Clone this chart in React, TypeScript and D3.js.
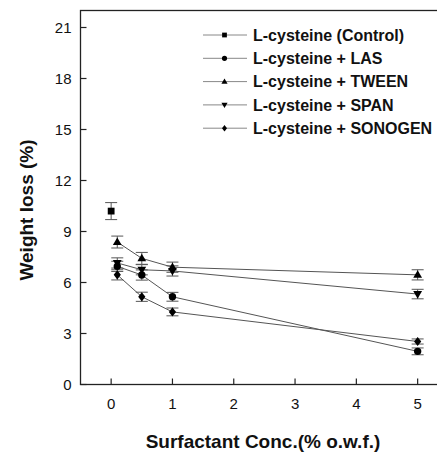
import React from "react";
import * as d3 from "d3";

// concentrations (% o.w.f.)
const concs = [0.1, 0.5, 1, 5];

const controlX = [0];
const controlY = [10.2];
const controlErr = [0.5];

const lasY = [6.95, 6.44, 5.16, 1.95];
const lasErr = [0.3, 0.3, 0.26, 0.2];

const tweenY = [8.38, 7.42, 6.9, 6.45];
const tweenErr = [0.35, 0.35, 0.3, 0.3];

const spanY = [7.15, 6.75, 6.68, 5.32];
const spanErr = [0.3, 0.3, 0.3, 0.28];

const sonogenY = [6.45, 5.16, 4.27, 2.53];
const sonogenErr = [0.3, 0.27, 0.23, 0.15];

const xTicks = [0, 1, 2, 3, 4, 5];
const yTicks = [0, 3, 6, 9, 12, 15, 18, 21];

type Shape = "square" | "circle" | "up" | "down" | "diamond";

const series: { name: string; shape: Shape; x: number[]; y: number[]; err: number[] }[] = [
  { name: "L-cysteine (Control)", shape: "square", x: controlX, y: controlY, err: controlErr },
  { name: "L-cysteine + LAS", shape: "circle", x: concs, y: lasY, err: lasErr },
  { name: "L-cysteine + TWEEN", shape: "up", x: concs, y: tweenY, err: tweenErr },
  { name: "L-cysteine + SPAN", shape: "down", x: concs, y: spanY, err: spanErr },
  { name: "L-cysteine + SONOGEN", shape: "diamond", x: concs, y: sonogenY, err: sonogenErr },
];

function markerPath(shape: Shape, k: number) {
  switch (shape) {
    case "square":
      return `M${-3.4 * k},${-3.4 * k}h${6.8 * k}v${6.8 * k}h${-6.8 * k}Z`;
    case "circle": {
      const r = 3.7 * k;
      return `M${-r},0a${r},${r} 0 1,0 ${2 * r},0a${r},${r} 0 1,0 ${-2 * r},0Z`;
    }
    case "up":
      return `M0,${-4.6 * k}L${4.4 * k},${3 * k}L${-4.4 * k},${3 * k}Z`;
    case "down":
      return `M0,${4.6 * k}L${4.4 * k},${-3 * k}L${-4.4 * k},${-3 * k}Z`;
    case "diamond":
      return `M0,${-4.6 * k}L${3.6 * k},0L0,${4.6 * k}L${-3.6 * k},0Z`;
  }
}

export default function App() {
  const width = 437;
  const height = 453;

  const x = d3.scaleLinear().domain([-0.5, 5.5]).range([80.5, 448.3]);
  const y = d3.scaleLinear().domain([0, 22]).range([384.5, 10.5]);

  const line = d3
    .line<[number, number]>()
    .x((d) => x(d[0]))
    .y((d) => y(d[1]));

  const font = "'Liberation Sans', Arial, sans-serif";

  return (
    <svg
      width={width}
      height={height}
      style={{ position: "absolute", left: 0, top: 0, background: "#fff" }}
      fontFamily={font}
    >
      {/* frame */}
      <rect
        x={x(-0.5)}
        y={y(22)}
        width={x(5.5) - x(-0.5)}
        height={y(0) - y(22)}
        fill="none"
        stroke="#222"
        strokeWidth={1.3}
      />

      {/* y ticks */}
      {yTicks.map((t) => (
        <g key={`y${t}`}>
          <line x1={x(-0.5)} x2={x(-0.5) + 6} y1={y(t)} y2={y(t)} stroke="#222" strokeWidth={1.2} />
          <text x={71.5} y={y(t)} dy="0.36em" textAnchor="end" fontSize={15} fill="#111">
            {t}
          </text>
        </g>
      ))}

      {/* x ticks */}
      {xTicks.map((t) => (
        <g key={`x${t}`}>
          <line x1={x(t)} x2={x(t)} y1={y(0)} y2={y(0) - 6} stroke="#222" strokeWidth={1.2} />
          <text x={x(t)} y={408.5} textAnchor="middle" fontSize={15} fill="#111">
            {t}
          </text>
        </g>
      ))}

      {/* axis titles */}
      <text x={263} y={448} textAnchor="middle" fontSize={19} fontWeight="bold" fill="#111">
        Surfactant Conc.(% o.w.f.)
      </text>
      <text
        transform="translate(33,210) rotate(-90)"
        textAnchor="middle"
        fontSize={19}
        fontWeight="bold"
        fill="#111"
      >
        Weight loss (%)
      </text>

      {/* connecting lines */}
      {series.map((s) =>
        s.x.length > 1 ? (
          <path
            key={`l-${s.name}`}
            d={line(s.x.map((v, i) => [v, s.y[i]] as [number, number])) ?? ""}
            fill="none"
            stroke="#555"
            strokeWidth={1}
          />
        ) : null,
      )}

      {/* error bars */}
      {series.map((s) =>
        s.x.map((v, i) => {
          const cx = x(v);
          const top = y(s.y[i] + s.err[i]);
          const bot = y(s.y[i] - s.err[i]);
          return (
            <g key={`e-${s.name}-${i}`} stroke="#555" strokeWidth={1}>
              <line x1={cx} x2={cx} y1={top} y2={bot} />
              <line x1={cx - 6} x2={cx + 6} y1={top} y2={top} />
              <line x1={cx - 6} x2={cx + 6} y1={bot} y2={bot} />
            </g>
          );
        }),
      )}

      {/* markers */}
      {series.map((s) =>
        s.x.map((v, i) => (
          <path
            key={`m-${s.name}-${i}`}
            transform={`translate(${x(v)},${y(s.y[i])})`}
            d={markerPath(s.shape, 1)}
            fill="#000"
          />
        )),
      )}

      {/* legend */}
      {series.map((s, i) => {
        const ly = 35 + i * 23.3;
        return (
          <g key={`lg-${s.name}`}>
            <line x1={203} x2={247} y1={ly} y2={ly} stroke="#888" strokeWidth={1} />
            <path transform={`translate(224.5,${ly})`} d={markerPath(s.shape, 0.7)} fill="#000" />
            <text x={253} y={ly} dy="0.36em" fontSize={16} fontWeight="bold" fill="#111">
              {s.name}
            </text>
          </g>
        );
      })}
    </svg>
  );
}
